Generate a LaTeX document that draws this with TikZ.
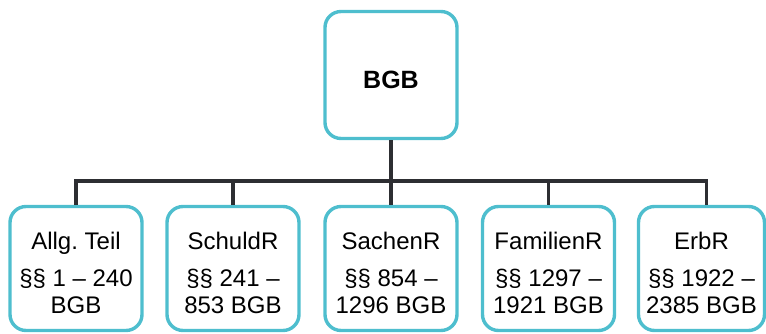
\documentclass[tikz,border=0pt]{standalone}
\usepackage{fontspec}
\setmainfont{Liberation Sans}
\definecolor{boxcyan}{RGB}{78,190,206}
\definecolor{linegray}{RGB}{45,46,50}
\newcommand{\topstrut}{\rule{0pt}{27pt}}
\tikzset{
  topbox/.style={draw=boxcyan, line width=3.4pt, rounded corners=16pt, fill=white,
    minimum width=132pt, minimum height=127pt, inner sep=0pt,
    font=\fontsize{25}{30}\selectfont\bfseries, align=center},
  subbox/.style={draw=boxcyan, line width=3.4pt, rounded corners=16pt, fill=white,
    minimum width=132pt, minimum height=124pt, inner sep=0pt,
    font=\fontsize{24}{27}\selectfont, align=center},
  conn/.style={draw=linegray, line width=3.2pt}
}
\begin{document}
\begin{tikzpicture}[x=1pt,y=-1pt]
\useasboundingbox (0,0) rectangle (766,334);
\node[topbox] (bgb) at (391,75) {\rule{0pt}{28pt}BGB};
\node[subbox] (b1) at (76,268.5) {\topstrut Allg.\ Teil\\[10pt]§§ 1 – 240\\BGB};
\node[subbox] (b2) at (233,268.5) {\topstrut SchuldR\\[10pt]§§ 241 –\\853 BGB};
\node[subbox] (b3) at (391,268.5) {\topstrut SachenR\\[10pt]§§ 854 –\\1296 BGB};
\node[subbox] (b4) at (548.5,268.5) {\topstrut FamilienR\\[10pt]§§ 1297 –\\1921 BGB};
\node[subbox, minimum width=126pt] (b5) at (701.5,268.5) {\topstrut ErbR\\[10pt]§§ 1922 –\\2385 BGB};
\coordinate (bus) at (0,181);
\coordinate (b5top) at ([xshift=5pt]b5.north);
\draw[conn] (bgb.south) -- (b3.north);
\draw[conn] (b1.north) -- (b1.north |- bus) -- (b5top |- bus) -- (b5top);
\draw[conn] (b2.north) -- (b2.north |- bus);
\draw[conn] (b4.north) -- (b4.north |- bus);
\end{tikzpicture}
\end{document}
